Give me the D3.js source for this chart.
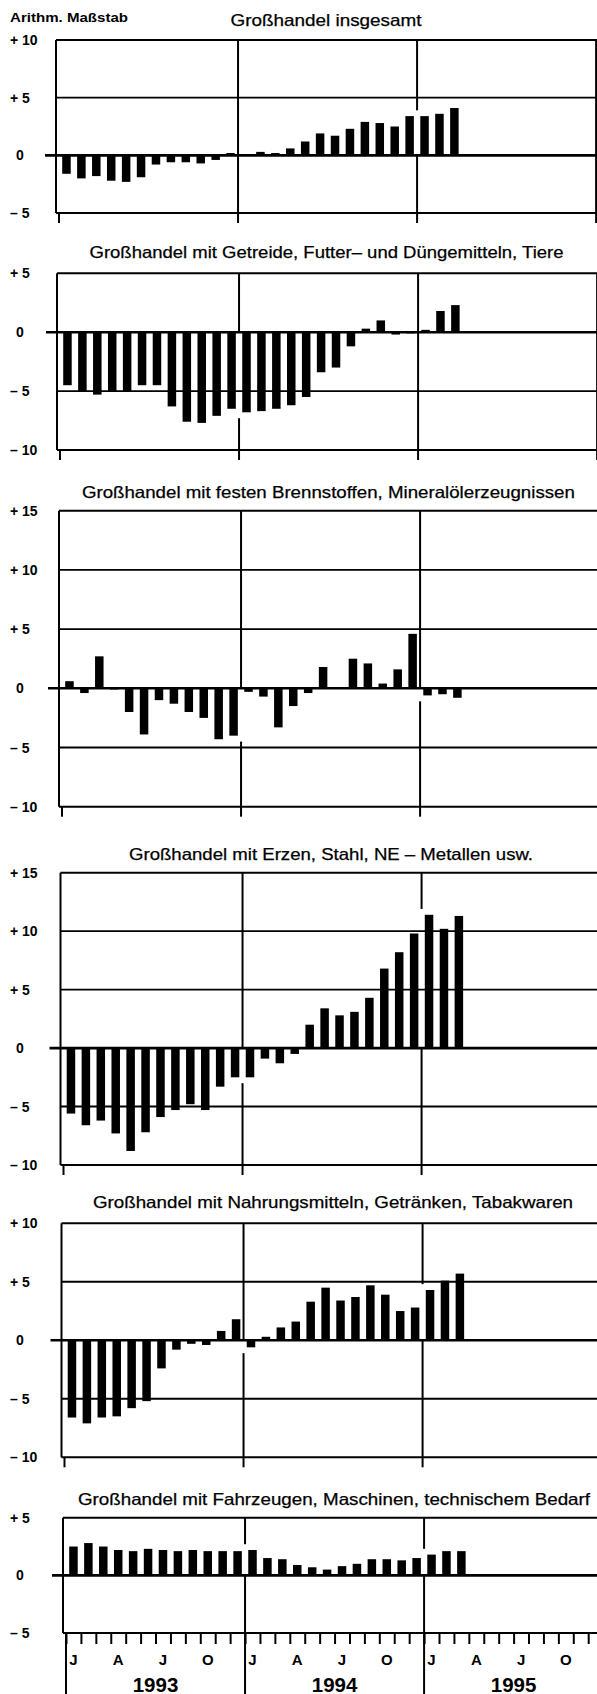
<!DOCTYPE html>
<html><head><meta charset="utf-8">
<script src="https://cdn.jsdelivr.net/npm/d3@7"></script>
<style>body{margin:0;background:#fff}svg{display:block}</style>
</head><body><svg id="c" width="597" height="1694"></svg>
<script>
// ---------- DATA ----------
const years = ["1993", "1994", "1995"];
const monthNums = ["01","02","03","04","05","06","07","08","09","10","11","12"];
const axisMonthLabels = ["J", "A", "J", "O"];          // Jan, Apr, Jul, Oct
const axisMonthIndex = [0, 3, 6, 9];
const periods = years.flatMap(y => monthNums.map(m => y + "-" + m)); // Jan 1993 .. Dec 1995

const titles = [
  "Großhandel insgesamt",
  "Großhandel mit Getreide, Futter– und Düngemitteln, Tiere",
  "Großhandel mit festen Brennstoffen, Mineralölerzeugnissen",
  "Großhandel mit Erzen, Stahl, NE – Metallen usw.",
  "Großhandel mit Nahrungsmitteln, Getränken, Tabakwaren",
  "Großhandel mit Fahrzeugen, Maschinen, technischem Bedarf"
];

// values Jan 1993 .. Mar 1995 (27 months), % change vs. previous year
const insgesamt   = [-1.6,-2.0,-1.8,-2.2,-2.3,-1.9,-0.8,-0.6,-0.6,-0.7,-0.4, 0.2,
                      0.1, 0.3, 0.2, 0.6, 1.2, 1.9, 1.7, 2.3, 2.9, 2.8, 2.5, 3.4,
                      3.4, 3.6, 4.1];
const getreide    = [-4.5,-5.0,-5.3,-5.0,-5.0,-4.5,-4.5,-6.3,-7.6,-7.7,-7.1,-6.5,
                     -6.8,-6.7,-6.5,-6.2,-5.5,-3.4,-3.0,-1.2, 0.3, 1.0,-0.2,-0.1,
                      0.2, 1.8, 2.3];
const brennstoffe = [ 0.6,-0.4, 2.7,-0.1,-2.0,-3.9,-1.0,-1.3,-2.0,-2.5,-4.3,-4.0,
                     -0.3,-0.7,-3.3,-1.5,-0.4, 1.8, 0.1, 2.5, 2.1, 0.4, 1.6, 4.6,
                     -0.6,-0.5,-0.8];
const erze        = [-5.6,-6.6,-6.2,-7.3,-8.8,-7.2,-5.9,-5.3,-4.8,-5.3,-3.3,-2.5,
                     -2.5,-0.9,-1.3,-0.5, 2.0, 3.4, 2.8, 3.1, 4.3, 6.8, 8.2, 9.8,
                     11.4,10.2,11.3];
const nahrung     = [-6.6,-7.1,-6.6,-6.5,-5.8,-5.2,-2.4,-0.8,-0.3,-0.4, 0.8, 1.8,
                     -0.6, 0.3, 1.1, 1.6, 3.3, 4.5, 3.4, 3.7, 4.7, 3.9, 2.5, 2.8,
                      4.3, 5.1, 5.7];
const fahrzeuge   = [ 2.5, 2.8, 2.5, 2.2, 2.1, 2.3, 2.2, 2.1, 2.2, 2.1, 2.1, 2.1,
                      2.2, 1.5, 1.4, 0.9, 0.7, 0.5, 0.8, 1.0, 1.4, 1.4, 1.3, 1.5,
                      1.8, 2.1, 2.1];

const seriesList = [insgesamt, getreide, brennstoffe, erze, nahrung, fahrzeuge];
const yDomains = [[-5,10],[-10,5],[-10,15],[-10,15],[-10,10],[-5,5]];
const yTickValues = [[10,5,0,-5],[5,0,-5,-10],[15,10,5,0,-5,-10],[15,10,5,0,-5,-10],[10,5,0,-5,-10],[5,0,-5]];
const scaleNote = "Arithm. Maßstab";

// ---------- LAYOUT ----------
const layout = [
  {top:40,    bottom:213,    x0:59,   titleY:26,    titleW:191, titleCx:326},
  {top:273.3, bottom:450,    x0:60,   titleY:257.7, titleW:474, titleCx:326.5},
  {top:510.7, bottom:806.7,  x0:62,   titleY:498,   titleW:493, titleCx:328.4},
  {top:872.7, bottom:1165,   x0:63.5, titleY:860,   titleW:404, titleCx:331},
  {top:1223.3,bottom:1457.3, x0:64.5, titleY:1208,  titleW:480, titleCx:333},
  {top:1517.7,bottom:1633,   x0:66,   titleY:1505,  titleW:512, titleCx:334}
];
const MW = 14.92;
const W = 597, H = 1694;
const FONT = "'Liberation Sans', Arial, Helvetica, sans-serif";

const svg = d3.select("#c");
svg.append("rect").attr("width", W).attr("height", H).attr("fill", "#fff");

svg.append("text").attr("x", 10).attr("y", 21.7)
  .attr("font-family", FONT).attr("font-weight", "bold").attr("font-size", 13)
  .attr("textLength", 118).attr("lengthAdjust", "spacingAndGlyphs")
  .text(scaleNote);

const fmt = v => v > 0 ? "+ " + v : (v < 0 ? "– " + (-v) : "0");

seriesList.forEach((vals, pi) => {
  const L = layout[pi];
  const g = svg.append("g");
  const y = d3.scaleLinear().domain(yDomains[pi]).range([L.bottom, L.top]);
  const xb = d3.scaleBand().domain(periods).range([L.x0, L.x0 + 36 * MW])
    .paddingInner(0.43).paddingOuter(0.215);
  const xl = d3.scaleLinear().domain([0, 36]).range([L.x0, L.x0 + 36 * MW]);
  const left = L.x0 - 3, right = W;
  const y0 = y(0);

  // title
  g.append("text").attr("x", L.titleCx).attr("y", L.titleY)
    .attr("text-anchor", "middle").attr("font-family", FONT).attr("font-size", 16.5)
    .attr("textLength", L.titleW).attr("lengthAdjust", "spacingAndGlyphs")
    .attr("stroke", "#000").attr("stroke-width", 0.25)
    .text(titles[pi]);

  // horizontal grid lines (incl. top and bottom border)
  yTickValues[pi].filter(t => t !== 0).forEach(t => {
    g.append("line").attr("x1", left).attr("x2", right)
      .attr("y1", y(t)).attr("y2", y(t)).attr("stroke", "#000").attr("stroke-width", 1.9);
  });
  // left & right borders
  g.append("line").attr("x1", left).attr("x2", left).attr("y1", L.top).attr("y2", L.bottom)
    .attr("stroke", "#000").attr("stroke-width", 2);
  g.append("line").attr("x1", xl(36)).attr("x2", xl(36)).attr("y1", L.top).attr("y2", L.bottom + (pi === 5 ? 0 : 10))
    .attr("stroke", "#000").attr("stroke-width", 2);

  // year separators (broken where adjacent bars sit)
  [12, 24].forEach(b => {
    const rv = vals[b], lv = vals[b - 1];
    let lo = 0, hi = 0;
    if (rv !== undefined && Math.abs(rv) >= 0.3) {
      const same = [rv, lv].filter(v => v !== undefined && Math.sign(v) === Math.sign(rv));
      if (rv > 0) hi = d3.max(same) + 0.5; else lo = d3.min(same) - 0.5;
    }
    const yEnd = pi === 5 ? H : L.bottom + 10;
    const segs = (lo === 0 && hi === 0) ? [[L.top, yEnd]] : [[L.top, y(hi)], [y(lo), yEnd]];
    segs.forEach(s => g.append("line").attr("x1", xl(b)).attr("x2", xl(b))
      .attr("y1", s[0]).attr("y2", s[1]).attr("stroke", "#000").attr("stroke-width", 2));
  });
  // small year ticks below the frame
  if (pi !== 5) {
    [0].forEach(b => g.append("line").attr("x1", xl(b)).attr("x2", xl(b))
      .attr("y1", L.bottom).attr("y2", L.bottom + 10).attr("stroke", "#000").attr("stroke-width", 2));
  }

  // bars
  g.selectAll("rect.bar").data(vals).join("rect").attr("class", "bar")
    .attr("x", (d, i) => xb(periods[i]))
    .attr("width", xb.bandwidth())
    .attr("y", d => Math.min(y(d), y0))
    .attr("height", d => Math.abs(y(d) - y0))
    .attr("fill", "#000");

  // zero line
  g.append("line").attr("x1", L.x0 - 14).attr("x2", right).attr("y1", y0).attr("y2", y0)
    .attr("stroke", "#000").attr("stroke-width", 2.6);

  // y labels
  yTickValues[pi].forEach(t => {
    g.append("text").attr("x", t === 0 ? 16 : 10).attr("y", y(t) + 5)
      .attr("font-family", FONT).attr("font-weight", "bold").attr("font-size", 14)
      .text(fmt(t));
  });

  // bottom time axis on last panel
  if (pi === 5) {
    const ax = d3.axisBottom(xl).tickValues(d3.range(37)).tickSize(11).tickFormat("");
    const ag = g.append("g").attr("transform", `translate(0,${L.bottom})`).call(ax);
    ag.select(".domain").remove();
    ag.selectAll("line").attr("stroke", "#000").attr("stroke-width", 2);
    [0].forEach(b => g.append("line").attr("x1", xl(b)).attr("x2", xl(b))
      .attr("y1", L.bottom).attr("y2", H).attr("stroke", "#000").attr("stroke-width", 2));
    years.forEach((yr, yi) => {
      axisMonthLabels.forEach((lab, k) => {
        const p = periods[yi * 12 + axisMonthIndex[k]];
        g.append("text").attr("x", xb(p) + xb.bandwidth() / 2).attr("y", 1664.5)
          .attr("text-anchor", "middle").attr("font-family", FONT).attr("font-weight", "bold")
          .attr("font-size", 15).text(lab);
      });
      g.append("text").attr("x", (xl(yi * 12) + xl(yi * 12 + 12)) / 2).attr("y", 1691.5)
        .attr("text-anchor", "middle").attr("font-family", FONT).attr("font-weight", "bold")
        .attr("font-size", 20.5).text(yr);
    });
  }
});
</script>
</body></html>
